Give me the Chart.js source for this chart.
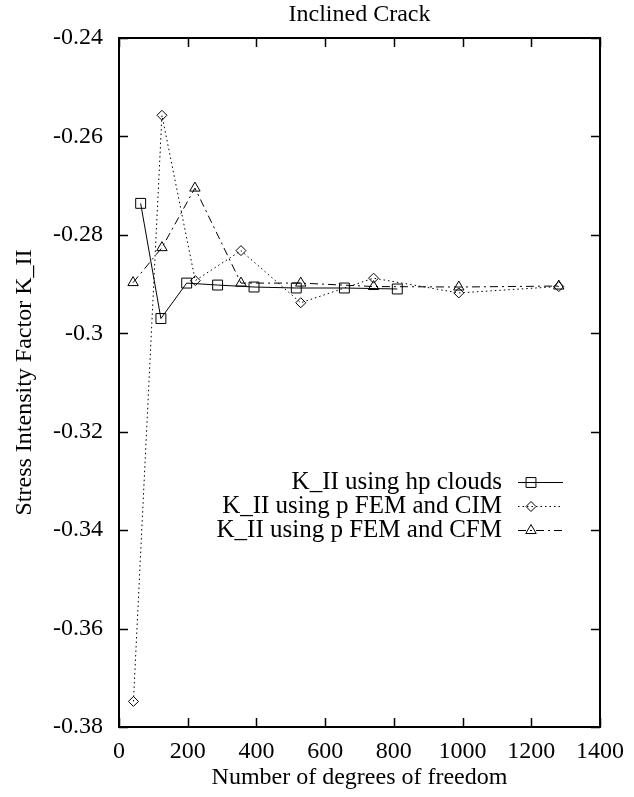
<!DOCTYPE html>
<html>
<head>
<meta charset="utf-8">
<script src="https://cdn.jsdelivr.net/npm/chart.js@4"></script>
<style>
  html, body { margin: 0; padding: 0; background: #fff; }
  #wrap { width: 634px; height: 797px; }
</style>
</head>
<body>
<div id="wrap"><canvas id="kplot"></canvas></div>
<script>
// degrees of freedom and K_II values for each method
const dofHp = [63, 122, 197, 287, 393, 516, 656, 810]
const kHp = [-0.2736, -0.297, -0.2898, -0.2902, -0.2906, -0.2908, -0.2908, -0.291]

const dofCim = [42, 125, 222, 355, 529, 741, 989, 1280]
const kCim = [-0.3748, -0.2557, -0.2893, -0.2832, -0.2938, -0.2888, -0.2918, -0.2905]

const dofCfm = [41, 125, 221, 355, 529, 741, 989, 1280]
const kCfm = [-0.2897, -0.2826, -0.2705, -0.2898, -0.2898, -0.2905, -0.2906, -0.2904]

const labels = ["K_II using hp clouds", "K_II using p FEM and CIM", "K_II using p FEM and CFM"]
const plotTitle = 'Inclined Crack'

const serif = "'Liberation Serif', 'Times New Roman', serif"
const fontSize = 24

const toPoints = (xs, ys) => xs.map((x, i) => ({ x: x, y: ys[i] }))

// frame round the plot area, inward tick marks on all four sides, title over the plot
const framePlugin = {
  id: 'frame',
  afterDraw(chart) {
    const { ctx, chartArea: a, scales } = chart
    ctx.save()
    ctx.strokeStyle = '#000'
    ctx.lineWidth = 1.5
    const tl = 9
    scales.x.ticks.forEach(t => {
      const px = Math.round(scales.x.getPixelForValue(t.value)) + 0.5
      ctx.beginPath()
      ctx.moveTo(px, a.bottom); ctx.lineTo(px, a.bottom - tl)
      ctx.moveTo(px, a.top); ctx.lineTo(px, a.top + tl)
      ctx.stroke()
    })
    scales.y.ticks.forEach(t => {
      const py = Math.round(scales.y.getPixelForValue(t.value)) + 0.5
      ctx.beginPath()
      ctx.moveTo(a.left, py); ctx.lineTo(a.left + tl, py)
      ctx.moveTo(a.right, py); ctx.lineTo(a.right - tl, py)
      ctx.stroke()
    })
    ctx.lineWidth = 2
    ctx.strokeRect(a.left, a.top, a.right - a.left, a.bottom - a.top)

    ctx.font = fontSize + 'px ' + serif
    ctx.fillStyle = '#000'
    ctx.textAlign = 'center'
    ctx.textBaseline = 'middle'
    ctx.fillText(plotTitle, (a.left + a.right) / 2, 15)
    ctx.restore()
  }
}

// gnuplot style key: right aligned text, line sample with marker
const keyPlugin = {
  id: 'key',
  afterDraw(chart) {
    const { ctx } = chart
    ctx.save()
    ctx.font = '25px ' + serif
    ctx.textAlign = 'right'
    ctx.textBaseline = 'middle'
    chart.data.datasets.forEach((ds, i) => {
      const y = 482 + i * 24
      ctx.fillStyle = '#000'
      ctx.fillText(ds.label, 502, y)
      ctx.strokeStyle = '#000'
      ctx.lineWidth = 1
      ctx.setLineDash(ds.borderDash || [])
      ctx.beginPath()
      ctx.moveTo(518, y + 0.5)
      ctx.lineTo(563, y + 0.5)
      ctx.stroke()
      ctx.setLineDash([])
      ctx.fillStyle = 'rgba(0,0,0,0)'
      Chart.helpers.drawPoint(ctx, {
        pointStyle: ds.pointStyle,
        radius: ds.pointRadius,
        borderWidth: 1
      }, 531, y + 0.5)
    })
    ctx.restore()
  }
}

new Chart(document.getElementById('kplot'), {
  type: 'scatter',
  data: {
    datasets: [
      {
        label: labels[0],
        data: toPoints(dofHp, kHp),
        showLine: true,
        borderColor: '#000',
        borderWidth: 1,
        pointStyle: 'rect',
        pointRadius: 7,
        pointBorderWidth: 1,
        backgroundColor: 'rgba(0,0,0,0)',
        pointBackgroundColor: 'rgba(0,0,0,0)'
      },
      {
        label: labels[1],
        data: toPoints(dofCim, kCim),
        showLine: true,
        borderColor: '#000',
        borderWidth: 1,
        borderDash: [1.5, 3],
        pointStyle: 'rectRot',
        pointRadius: 5,
        pointBorderWidth: 1,
        backgroundColor: 'rgba(0,0,0,0)',
        pointBackgroundColor: 'rgba(0,0,0,0)'
      },
      {
        label: labels[2],
        data: toPoints(dofCfm, kCfm),
        showLine: true,
        borderColor: '#000',
        borderWidth: 1,
        borderDash: [8, 4, 2, 4],
        pointStyle: 'triangle',
        pointRadius: 6,
        pointBorderWidth: 1,
        backgroundColor: 'rgba(0,0,0,0)',
        pointBackgroundColor: 'rgba(0,0,0,0)'
      }
    ]
  },
  options: {
    responsive: true,
    maintainAspectRatio: false,
    animation: false,
    layout: { padding: { left: 0, right: 28, top: 38, bottom: 0 } },
    plugins: {
      legend: { display: false },
      tooltip: { enabled: false },
      title: { display: false }
    },
    scales: {
      x: {
        type: 'linear',
        min: 0,
        max: 1400,
        ticks: {
          stepSize: 200,
          color: '#000',
          font: { family: serif, size: fontSize },
          padding: 10,
          maxRotation: 0,
          callback: v => String(v)
        },
        grid: { display: false, drawTicks: false },
        border: { display: false },
        title: {
          display: true,
          text: 'Number of degrees of freedom',
          color: '#000',
          font: { family: serif, size: fontSize },
          padding: { top: 0, bottom: 5 }
        },
        afterFit: s => { s.height = 70 }
      },
      y: {
        min: -0.38,
        max: -0.24,
        ticks: {
          stepSize: 0.02,
          color: '#000',
          font: { family: serif, size: fontSize },
          padding: 16,
          callback: v => String(parseFloat(v.toFixed(2)))
        },
        grid: { display: false, drawTicks: false },
        border: { display: false },
        title: {
          display: true,
          text: 'Stress Intensity Factor K_II',
          color: '#000',
          font: { family: serif, size: fontSize },
          padding: { top: 10, bottom: 0 }
        },
        afterFit: s => { s.width = 119 }
      }
    }
  },
  plugins: [framePlugin, keyPlugin]
})
</script>
</body>
</html>
